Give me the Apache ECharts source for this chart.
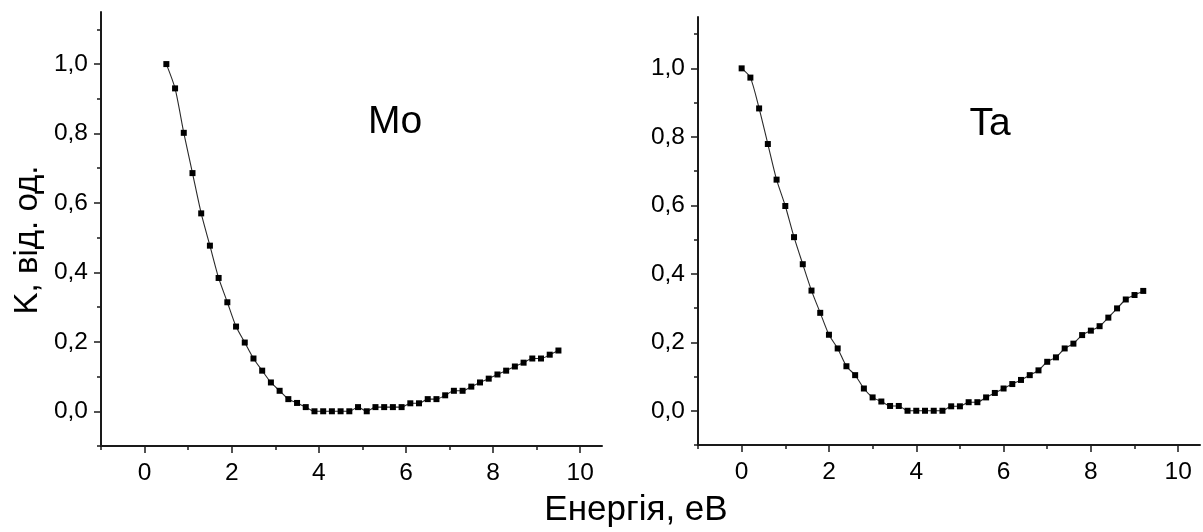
<!DOCTYPE html>
<html>
<head>
<meta charset="utf-8">
<script src="https://cdn.jsdelivr.net/npm/echarts@6/dist/echarts.min.js"></script>
<style>
  html, body { margin: 0; padding: 0; background: #fff; }
  #chart { width: 1203px; height: 532px; }
</style>
</head>
<body>
<div id="chart"></div>
<script>
// Reflection coefficient K vs. electron energy for Mo and Ta
const moEnergy = [0.5, 0.7, 0.9, 1.1, 1.3, 1.5, 1.7, 1.9, 2.1, 2.3, 2.5, 2.7, 2.9, 3.1, 3.3, 3.5,
  3.7, 3.9, 4.1, 4.3, 4.5, 4.7, 4.9, 5.1, 5.3, 5.5, 5.7, 5.9, 6.1, 6.3, 6.5, 6.7, 6.9, 7.1, 7.3,
  7.5, 7.7, 7.9, 8.1, 8.3, 8.5, 8.7, 8.9, 9.1, 9.3, 9.5];
const moK = [1.0, 0.930, 0.802, 0.686, 0.570, 0.477, 0.384, 0.314, 0.244, 0.198, 0.152, 0.117,
  0.083, 0.059, 0.035, 0.024, 0.012, 0.0, 0.0, 0.0, 0.0, 0.0, 0.012, 0.0, 0.012, 0.012, 0.012,
  0.012, 0.023, 0.023, 0.035, 0.035, 0.046, 0.059, 0.059, 0.071, 0.083, 0.094, 0.106, 0.117,
  0.129, 0.140, 0.152, 0.152, 0.163, 0.175];

const taEnergy = [0.0, 0.2, 0.4, 0.6, 0.8, 1.0, 1.2, 1.4, 1.6, 1.8, 2.0, 2.2, 2.4, 2.6, 2.8, 3.0,
  3.2, 3.4, 3.6, 3.8, 4.0, 4.2, 4.4, 4.6, 4.8, 5.0, 5.2, 5.4, 5.6, 5.8, 6.0, 6.2, 6.4, 6.6, 6.8,
  7.0, 7.2, 7.4, 7.6, 7.8, 8.0, 8.2, 8.4, 8.6, 8.8, 9.0, 9.2];
const taK = [1.0, 0.973, 0.883, 0.779, 0.675, 0.598, 0.507, 0.428, 0.351, 0.286, 0.222, 0.182,
  0.130, 0.104, 0.065, 0.039, 0.027, 0.014, 0.014, 0.0, 0.0, 0.0, 0.0, 0.0, 0.013, 0.013, 0.025,
  0.025, 0.039, 0.052, 0.065, 0.078, 0.090, 0.104, 0.118, 0.143, 0.156, 0.182, 0.196, 0.221,
  0.234, 0.247, 0.272, 0.299, 0.325, 0.338, 0.350];

// Axis ticks
const xMajorTicks = [0, 2, 4, 6, 8, 10];
const xMinorTicks = [-1, 1, 3, 5, 7, 9];
const yMajorTicks = [0, 0.2, 0.4, 0.6, 0.8, 1.0];
const yMinorTicks = [-0.1, 0.1, 0.3, 0.5, 0.7, 0.9, 1.1];

const X_MIN = -1, X_MAX = 10.5, Y_MIN = -0.1, Y_MAX = 1.15;
const FONT = '"Liberation Sans", Arial, sans-serif';
const AXIS_COLOR = '#1a1a1a';

const chart = echarts.init(document.getElementById('chart'), null, { renderer: 'canvas' });

const grids = [
  { left: 101, top: 12, width: 501, height: 434 },
  { left: 101, top: 12, width: 501, height: 434 },
  { left: 698, top: 17, width: 502, height: 428 },
  { left: 698, top: 17, width: 502, height: 428 }
].map(g => Object.assign({ containLabel: false, outerBoundsMode: 'none' }, g));

function xAxisFor(gridIndex, major) {
  return {
    type: 'value', gridIndex, min: X_MIN, max: X_MAX, position: 'bottom',
    splitLine: { show: false },
    axisLine: { show: major, onZero: false, lineStyle: { color: AXIS_COLOR, width: 2 } },
    axisTick: {
      show: true, inside: false, length: major ? 7 : 4,
      customValues: major ? xMajorTicks : xMinorTicks,
      lineStyle: { color: AXIS_COLOR, width: 1.5 }
    },
    axisLabel: major ? {
      show: true, customValues: xMajorTicks, margin: 15,
      color: '#000', fontSize: 24.5, fontFamily: FONT,
      formatter: v => String(v)
    } : { show: false }
  };
}

function yAxisFor(gridIndex, major) {
  return {
    type: 'value', gridIndex, min: Y_MIN, max: Y_MAX, position: 'left',
    splitLine: { show: false },
    axisLine: { show: major, onZero: false, lineStyle: { color: AXIS_COLOR, width: 2 } },
    axisTick: {
      show: true, inside: false, length: major ? 7 : 4,
      customValues: major ? yMajorTicks : yMinorTicks,
      lineStyle: { color: AXIS_COLOR, width: 1.5 }
    },
    axisLabel: major ? {
      show: true, customValues: yMajorTicks, margin: 13,
      color: '#000', fontSize: 24.5, fontFamily: FONT,
      formatter: v => v.toFixed(1).replace('.', ',')
    } : { show: false }
  };
}

function curve(xs, ys, xAxisIndex, yAxisIndex) {
  return {
    type: 'line', xAxisIndex, yAxisIndex,
    data: xs.map((e, i) => [e, ys[i]]),
    smooth: 0.25,
    symbol: 'rect', symbolSize: 6,
    showSymbol: true,
    itemStyle: { color: '#000' },
    lineStyle: { color: '#2a2a2a', width: 1.1 },
    animation: false,
    silent: true
  };
}

chart.setOption({
  animation: false,
  backgroundColor: '#fff',
  grid: grids,
  xAxis: [xAxisFor(0, true), xAxisFor(1, false), xAxisFor(2, true), xAxisFor(3, false)],
  yAxis: [yAxisFor(0, true), yAxisFor(1, false), yAxisFor(2, true), yAxisFor(3, false)],
  series: [
    curve(moEnergy, moK, 0, 0),
    curve(taEnergy, taK, 2, 2)
  ],
  graphic: [
    {
      type: 'text', x: 395, y: 122,
      style: { text: 'Mo', font: '39px ' + FONT, fill: '#000', textAlign: 'center', textVerticalAlign: 'middle' }
    },
    {
      type: 'text', x: 990, y: 124,
      style: { text: 'Ta', font: '39px ' + FONT, fill: '#000', textAlign: 'center', textVerticalAlign: 'middle' }
    },
    {
      type: 'text', x: 28, y: 240, rotation: Math.PI / 2,
      style: { text: 'K, від. од.', font: '33px ' + FONT, fill: '#000', textAlign: 'center', textVerticalAlign: 'middle' }
    },
    {
      type: 'text', x: 636, y: 510,
      style: { text: 'Енергія, еВ', font: '35px ' + FONT, fill: '#000', textAlign: 'center', textVerticalAlign: 'middle' }
    }
  ]
});
</script>
</body>
</html>
